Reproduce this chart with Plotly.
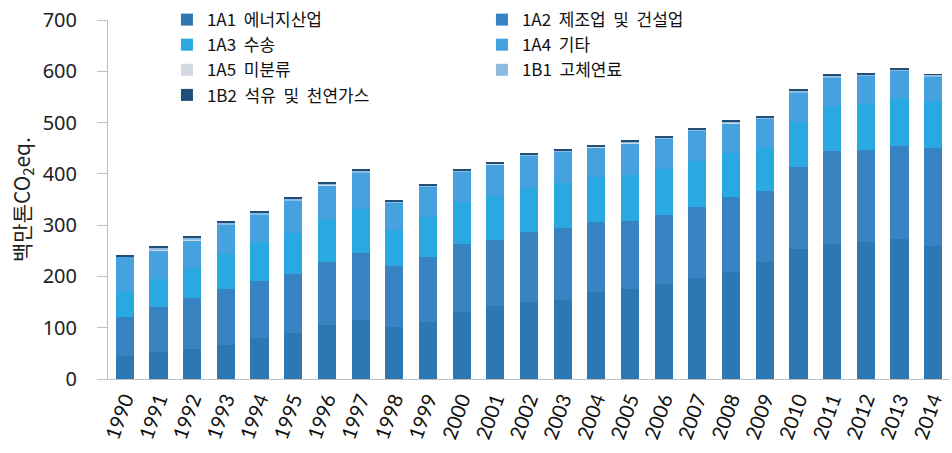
import plotly.graph_objects as go

years = [str(y) for y in range(1990, 2015)]

s_1a1 = [45, 52, 59, 67, 80, 90, 106, 116, 102, 112, 131, 143, 151, 155, 170, 176, 185, 197, 209, 228, 253, 264, 268, 273, 260]
s_1a2 = [75, 89, 98, 108, 112, 115, 123, 129, 118, 125, 132, 129, 136, 139, 136, 133, 134, 139, 146, 138, 161, 180, 179, 182, 191]
s_1a3 = [50, 54, 60, 68, 73, 79, 82, 87, 70, 78, 82, 84, 86, 88, 88, 89, 90, 90, 86, 84, 88, 89, 90, 90, 92]
s_1a4 = [68, 56, 54, 58, 56, 64, 66, 70, 54, 60, 60, 63, 62, 62, 58, 62, 60, 58, 58, 58, 56, 54, 54, 56, 47]
s_1a5 = [0.5, 0.5, 0.5, 0.5, 0.5, 0.5, 0.5, 0.5, 0.5, 0.5, 0.5, 0.5, 0.5, 0.5, 0.5, 0.5, 0.5, 0.5, 0.5, 0.5, 0.5, 0.5, 0.5, 0.5, 0.5]
s_1b1 = [1.0, 5.0, 3.5, 3.5, 2.5, 3.5, 4.5, 4.5, 2.5, 1.5, 1.5, 1.5, 1.5, 1.5, 1.5, 2.5, 1.5, 2.5, 2.5, 1.5, 3.5, 3.5, 2.5, 2.5, 3.0]
s_1b2 = [1.5, 2, 2, 2, 2, 2, 2, 2, 2, 2, 2, 2, 2, 2, 2, 2, 2, 2, 2, 2, 2, 2, 2, 2, 0.5]

names = ["1A1  에너지산업", "1A2  제조업  및  건설업", "1A3  수송", "1A4  기타",
         "1A5  미분류", "1B1  고체연료", "1B2  석유  및  천연가스"]
series = [s_1a1, s_1a2, s_1a3, s_1a4, s_1a5, s_1b1, s_1b2]
colors = ["#2d77b2", "#3884c3", "#2aa8e2", "#45a2de", "#d3d9e2", "#8dbbe0", "#1f4e79"]

fig = go.Figure()
for n, s, c in zip(names, series, colors):
    fig.add_trace(go.Bar(x=years, y=s, name=n, marker=dict(color=c, line=dict(width=0))))

fig.update_layout(
    barmode="stack",
    bargap=0.46,
    width=952, height=453,
    margin=dict(l=108, r=2, t=14, b=74),
    paper_bgcolor="white", plot_bgcolor="white",
    font=dict(family="Noto Sans CJK KR", color="#222222"),
    legend=dict(
        orientation="h", x=0.07, y=1.05, xanchor="left", yanchor="top",
        entrywidth=270, entrywidthmode="pixels",
        traceorder="normal",
        font=dict(size=17, color="#111111", family="Noto Sans CJK KR"),
        bgcolor="rgba(0,0,0,0)", itemwidth=30, tracegroupgap=0,
    ),
    showlegend=True,
)
fig.update_yaxes(
    range=[0, 700], dtick=100, tickmode="linear",
    showgrid=False, zeroline=False,
    showline=True, linecolor="#bfbfbf", linewidth=1,
    ticks="outside", ticklen=10, tickcolor="#bfbfbf",
    tickfont=dict(size=20, color="#222222", family="Noto Sans"),
    ticklabelstandoff=16,
    title=dict(text="백만톤CO<sub>2</sub>eq.", font=dict(size=21, color="#222222", family="Noto Sans CJK KR"), standoff=6),
)
fig.update_xaxes(
    type="category", showgrid=False,
    showline=True, linecolor="#bfbfbf", linewidth=1,
    ticks="", tickangle=-70,
    tickfont=dict(size=20, color="#111111", family="Lato"),
)

fig.write_html("out.html")
